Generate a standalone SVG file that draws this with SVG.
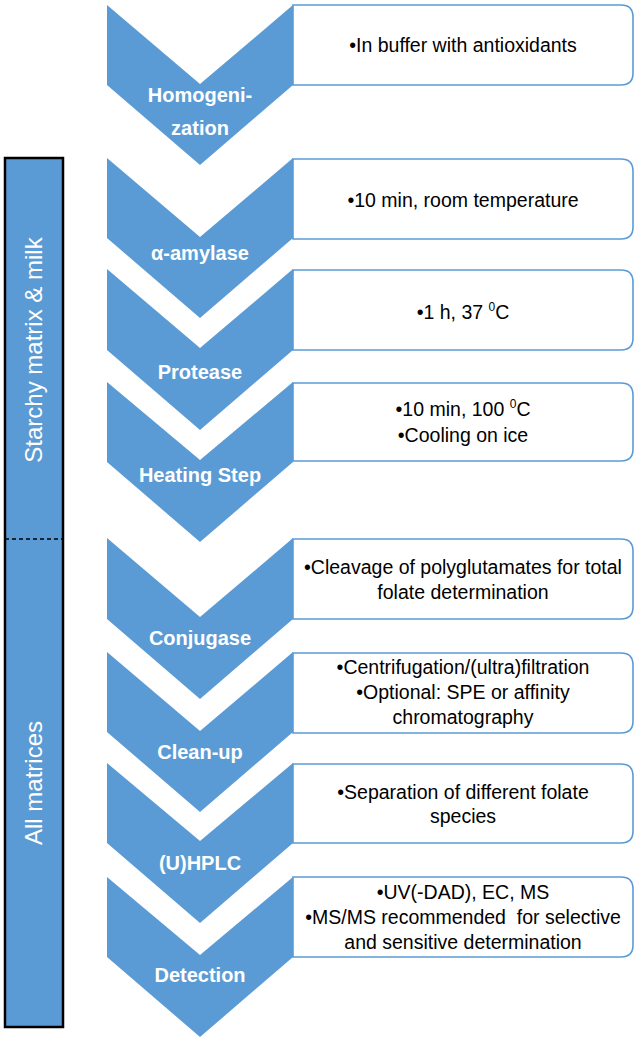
<svg xmlns="http://www.w3.org/2000/svg" width="638" height="1042" viewBox="0 0 638 1042">
<style>
.chev{fill:#5b9bd5}
.box{fill:#fff;stroke:#5b9bd5;stroke-width:1.6}
.lbl{font-family:"Liberation Sans",Arial,sans-serif;font-weight:bold;font-size:20px;fill:#fff;text-anchor:middle}
.txt{font-family:"Liberation Sans",Arial,sans-serif;font-size:19.5px;fill:#000;text-anchor:middle}
.side{font-family:"Liberation Sans",Arial,sans-serif;font-size:24px;fill:#fff;text-anchor:middle}
.sup{font-size:12px}
</style>
<rect width="638" height="1042" fill="#fff"/>
<g id="sidebar">
<rect x="5" y="158" width="58" height="869" fill="#5b9bd5" stroke="#000" stroke-width="2.5"/>
<line x1="5" y1="539" x2="63" y2="539" stroke="#000" stroke-width="1.5" stroke-dasharray="4,3"/>
<text class="side" transform="translate(34,350) rotate(-90)" y="8">Starchy matrix &amp; milk</text>
<text class="side" transform="translate(34,783) rotate(-90)" y="8">All matrices</text>
</g>
<g id="connectors"></g>
<g id="step1">
<path class="box" d="M293,5 H621 Q633,5 633,17 V73 Q633,85 621,85 H293 Z"/>
<path class="chev" d="M107,5 L200,84 L293,5 V85 L200,165 L107,85 Z"/>
<text class="lbl" x="200" y="102">Homogeni-</text>
<text class="lbl" x="200" y="135">zation</text>
<text class="txt" x="463" y="52">•In buffer with antioxidants</text>
</g>
<g id="step2">
<path class="box" d="M293,159 H621 Q633,159 633,171 V227 Q633,239 621,239 H293 Z"/>
<path class="chev" d="M107,158 L200,237 L293,158 V238 L200,318 L107,238 Z"/>
<text class="lbl" x="200" y="260">α-amylase</text>
<text class="txt" x="463" y="207">•10 min, room temperature</text>
</g>
<g id="step3">
<path class="box" d="M293,270 H621 Q633,270 633,282 V338 Q633,350 621,350 H293 Z"/>
<path class="chev" d="M107,269 L200,348 L293,269 V350 L200,430 L107,350 Z"/>
<text class="lbl" x="200" y="379">Protease</text>
<text class="txt" x="463" y="319">•1 h, 37 <tspan class="sup" dy="-8">0</tspan><tspan dy="8">C</tspan></text>
</g>
<g id="step4">
<path class="box" d="M293,383 H621 Q633,383 633,395 V449 Q633,461 621,461 H293 Z"/>
<path class="chev" d="M107,382 L200,460 L293,382 V462 L200,542 L107,462 Z"/>
<text class="lbl" x="200" y="482">Heating Step</text>
<text class="txt" x="463" y="416">•10 min, 100 <tspan class="sup" dy="-8">0</tspan><tspan dy="8">C</tspan></text>
<text class="txt" x="463" y="442">•Cooling on ice</text>
</g>
<g id="step5">
<path class="box" d="M293,539 H621 Q633,539 633,551 V607 Q633,619 621,619 H293 Z"/>
<path class="chev" d="M107,538 L200,617 L293,538 V619 L200,699 L107,619 Z"/>
<text class="lbl" x="200" y="645">Conjugase</text>
<text class="txt" x="463" y="574">•Cleavage of polyglutamates for total</text>
<text class="txt" x="463" y="599">folate determination</text>
</g>
<g id="step6">
<path class="box" d="M293,653 H621 Q633,653 633,665 V721 Q633,733 621,733 H293 Z"/>
<path class="chev" d="M107,652 L200,731 L293,652 V732 L200,812 L107,732 Z"/>
<text class="lbl" x="200" y="759">Clean-up</text>
<text class="txt" x="463" y="674">•Centrifugation/(ultra)filtration</text>
<text class="txt" x="463" y="699">•Optional: SPE or affinity</text>
<text class="txt" x="463" y="724">chromatography</text>
</g>
<g id="step7">
<path class="box" d="M293,764 H621 Q633,764 633,776 V831 Q633,843 621,843 H293 Z"/>
<path class="chev" d="M107,763 L200,841 L293,763 V843 L200,923 L107,843 Z"/>
<text class="lbl" x="200" y="870">(U)HPLC</text>
<text class="txt" x="463" y="799">•Separation of different folate</text>
<text class="txt" x="463" y="823">species</text>
</g>
<g id="step8">
<path class="box" d="M293,877 H621 Q633,877 633,889 V945 Q633,957 621,957 H293 Z"/>
<path class="chev" d="M107,877 L200,955 L293,877 V957 L200,1037 L107,957 Z"/>
<text class="lbl" x="200" y="982">Detection</text>
<text class="txt" x="463" y="899">•UV(-DAD), EC, MS</text>
<text class="txt" x="463" y="924">•MS/MS recommended&#160; for selective</text>
<text class="txt" x="463" y="949">and sensitive determination</text>
</g>
</svg>
